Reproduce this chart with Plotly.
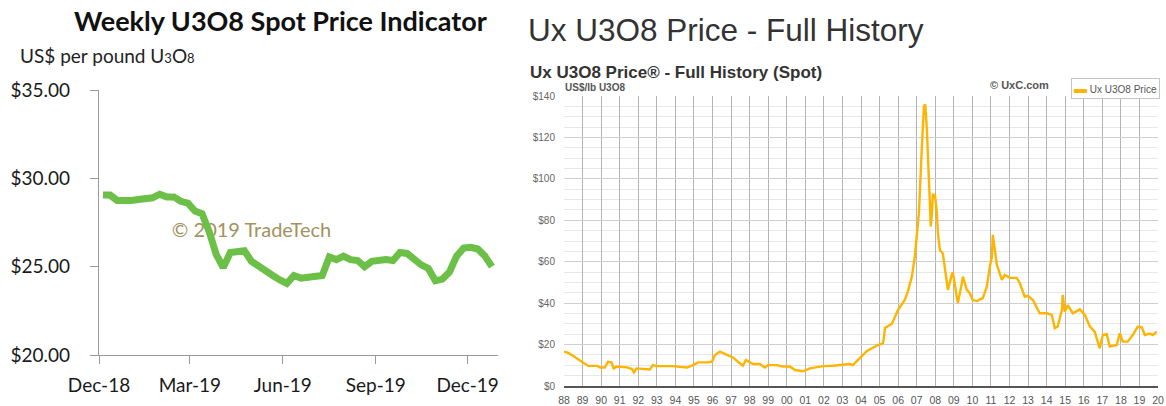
import plotly.graph_objects as go
import pandas as pd

W, H = 1166, 406

def px(x):
    return x / W

def py(y):
    return 1 - y / H

# ---------------- Left chart: TradeTech weekly spot price indicator ----------------
weekly_start = "2018-12-05"
weekly_price = [29.05, 29.05, 28.75, 28.7, 28.75, 28.8, 28.85, 28.9, 29.1, 28.95,
                28.95, 28.7, 28.6, 28.15, 28.0, 27.0, 25.7, 24.95, 25.8, 25.9,
                25.9, 25.3, 25.0, 24.8, 24.5, 24.25, 24.05, 24.5, 24.35, 24.4,
                24.5, 24.5, 25.55, 25.4, 25.6, 25.4, 25.35, 25.0, 25.3, 25.35,
                25.4, 25.35, 25.8, 25.75, 25.4, 25.1, 24.9, 24.2, 24.3, 24.7,
                25.6, 26.05, 26.1, 26.0, 25.6, 25.0]
weekly_dates = pd.date_range(weekly_start, periods=len(weekly_price), freq="7D")

left_tickvals = ["2018-12-01", "2019-03-01", "2019-06-01", "2019-09-01", "2019-12-01"]
left_ticktext = ["Dec-18", "Mar-19", "Jun-19", "Sep-19", "Dec-19"]
left_yticks = [20, 25, 30, 35]
left_yticktext = ["$%.2f" % v for v in left_yticks]

# ---------------- Right chart: UxC full history ----------------
ux_year = [1988.0, 1988.2, 1988.5, 1988.86, 1989.1, 1989.3, 1989.8, 1989.95, 1990.2, 1990.37,
           1990.55, 1990.68, 1990.85, 1991.4, 1991.66, 1991.77, 1991.9, 1992.47, 1992.63, 1992.79,
           1993.01, 1993.87, 1994.25, 1994.62, 1994.95, 1995.22, 1995.75, 1995.97, 1996.13, 1996.4,
           1996.78, 1997.1, 1997.37, 1997.64, 1997.8, 1998.18, 1998.55, 1998.82, 1998.99, 1999.47,
           1999.79, 2000.17, 2000.44, 2000.87, 2001.25, 2001.62, 2001.95, 2002.49, 2003.02, 2003.4,
           2003.56, 2004.05, 2004.32, 2004.64, 2004.91, 2005.18, 2005.23, 2005.29, 2005.66, 2005.99,
           2006.36, 2006.52, 2006.74, 2006.9, 2007.01, 2007.12, 2007.28, 2007.39, 2007.46, 2007.55,
           2007.66, 2007.76, 2007.82, 2007.87, 2007.98, 2008.09, 2008.14, 2008.25, 2008.41, 2008.52,
           2008.68, 2008.89, 2008.95, 2009.16, 2009.22, 2009.43, 2009.49, 2009.7, 2009.86, 2010.02,
           2010.24, 2010.56, 2010.78, 2010.94, 2011.05, 2011.1, 2011.16, 2011.26, 2011.32, 2011.59,
           2011.75, 2012.02, 2012.39, 2012.56, 2012.82, 2012.99, 2013.26, 2013.63, 2014.01, 2014.28,
           2014.44, 2014.6, 2014.82, 2014.87, 2014.98, 2015.14, 2015.41, 2015.79, 2016.06, 2016.33,
           2016.59, 2016.86, 2017.03, 2017.24, 2017.4, 2017.78, 2017.94, 2018.1, 2018.37, 2018.64,
           2018.91, 2019.13, 2019.29, 2019.56, 2019.72, 2019.93]
ux_price = [16.6, 16.1, 14.5, 12.3, 11.0, 9.7, 9.7, 8.9, 8.9, 11.7,
            11.4, 8.5, 9.4, 9.0, 8.2, 6.6, 8.5, 8.0, 8.0, 10.1,
            9.6, 9.6, 9.1, 8.9, 10.1, 11.4, 11.4, 11.7, 15.0, 16.6,
            15.0, 13.8, 11.7, 9.8, 12.6, 10.6, 10.6, 8.9, 10.1, 10.1,
            9.4, 9.4, 7.7, 7.1, 8.5, 8.9, 9.6, 9.8, 10.1, 10.6,
            10.1, 14.2, 16.9, 18.5, 19.8, 20.6, 23.0, 28.0, 30.0, 36.7,
            41.5, 45.6, 52.8, 62.5, 72.0, 83.5, 115.6, 135.0, 136.0, 123.7,
            99.5, 77.0, 83.6, 92.3, 92.3, 83.6, 74.0, 65.7, 64.0, 57.6,
            46.4, 53.6, 55.0, 43.0, 40.0, 49.6, 52.8, 46.4, 44.8, 41.5,
            41.0, 42.4, 48.0, 57.6, 62.5, 73.0, 69.0, 62.5, 58.5, 51.2,
            53.6, 52.2, 52.2, 49.6, 43.1, 43.5, 41.5, 35.1, 35.1, 34.3,
            27.9, 28.7, 36.7, 44.0, 35.9, 39.0, 35.1, 37.0, 34.3, 28.7,
            26.2, 18.2, 24.6, 25.0, 19.0, 19.8, 25.5, 21.4, 21.4, 24.6,
            28.7, 28.3, 24.6, 25.3, 24.6, 26.2]

ux_name = "Ux U3O8 Price"
ux_color = "#FFB400"
ux_tickyears = list(range(1988, 2021))
ux_ticktext = ["%02d" % (y % 100) for y in ux_tickyears]
ux_yticks = [0, 20, 40, 60, 80, 100, 120, 140]
ux_yticktext = ["$%d" % v for v in ux_yticks]

fig = go.Figure()

# watermark text under the green line
fig.add_trace(go.Scatter(
    x=["2019-05-01"], y=[26.95], mode="text", text=["© 2019 TradeTech"],
    textfont=dict(family="Lato", size=20, color="#A3925F"),
    xaxis="x", yaxis="y", showlegend=False, hoverinfo="skip"))

fig.add_trace(go.Scatter(
    x=weekly_dates, y=weekly_price, mode="lines",
    line=dict(color="#6CBF47", width=7, shape="linear"),
    xaxis="x", yaxis="y", showlegend=False, name="Weekly U3O8 Spot Price Indicator"))

fig.add_trace(go.Scatter(
    x=ux_year, y=ux_price, mode="lines",
    line=dict(color=ux_color, width=2.4),
    xaxis="x2", yaxis="y2", showlegend=False, name=ux_name))

left_font = dict(family="Lato", size=19, color="#1a1a1a")
right_font = dict(family="Liberation Sans", size=10, color="#666666")

fig.update_layout(
    width=W, height=H,
    margin=dict(l=0, r=0, t=0, b=0),
    paper_bgcolor="white", plot_bgcolor="rgba(0,0,0,0)",
    xaxis=dict(
        domain=[px(99), px(498)], anchor="y", type="date",
        range=["2018-12-01", "2019-12-31"],
        tickvals=left_tickvals, ticktext=left_ticktext,
        showgrid=False, zeroline=False,
        showline=True, linecolor="#9a9a9a", linewidth=1.2,
        ticks="outside", ticklen=8, tickcolor="#9a9a9a", tickwidth=1.2,
        tickfont=left_font, ticklabelstandoff=5, automargin=False),
    yaxis=dict(
        domain=[py(355), py(90)], anchor="x",
        range=[20, 35], tickvals=left_yticks, ticktext=left_yticktext,
        showgrid=False, zeroline=False,
        showline=True, linecolor="#9a9a9a", linewidth=1.2,
        ticks="outside", ticklen=8, tickcolor="#9a9a9a", tickwidth=1.2,
        tickfont=left_font, ticklabelstandoff=16, automargin=False),
    xaxis2=dict(
        domain=[px(564), px(1158)], anchor="y2",
        range=[1988, 2020], tickvals=ux_tickyears, ticktext=ux_ticktext,
        showgrid=True, gridcolor="#b4b4b4", gridwidth=1,
        zeroline=False, showline=True, linecolor="#555555", linewidth=1.5,
        ticks="", tickfont=dict(family="Liberation Sans", size=10.5, color="#555555"),
        ticklabelstandoff=4, automargin=False),
    yaxis2=dict(
        domain=[py(386), py(96)], anchor="x2",
        range=[0, 140], tickvals=ux_yticks, ticktext=ux_yticktext,
        showgrid=True, gridcolor="#cfcfcf", gridwidth=1,
        minor=dict(dtick=5, showgrid=True, gridcolor="#e8e8e8", gridwidth=1),
        zeroline=False, showline=False, ticks="",
        tickfont=right_font, ticklabelstandoff=8, automargin=False),
    showlegend=False,
)

annotations = [
    dict(text="<b>Weekly U3O8 Spot Price Indicator</b>", x=px(280), y=py(20),
         xanchor="center", yanchor="middle",
         font=dict(family="Lato", size=27, color="#111111")),
    dict(text="US$ per pound U<span style='font-size:13px'>3</span>O<span style='font-size:13px'>8</span>",
         x=px(18), y=py(55), xanchor="left", yanchor="middle",
         font=dict(family="Lato", size=19, color="#222222")),
    dict(text="Ux U3O8 Price - Full History", x=px(526), y=py(30),
         xanchor="left", yanchor="middle",
         font=dict(family="Liberation Sans", size=31.5, color="#333333")),
    dict(text="<b>Ux U3O8 Price® - Full History (Spot)</b>", x=px(528), y=py(72),
         xanchor="left", yanchor="middle",
         font=dict(family="Liberation Sans", size=17, color="#333333")),
    dict(text="<b>US$/lb U3O8</b>", x=px(563), y=py(88),
         xanchor="left", yanchor="middle",
         font=dict(family="Liberation Sans", size=10, color="#555555")),
    dict(text="<b>© UxC.com</b>", x=px(988), y=py(85),
         xanchor="left", yanchor="middle",
         font=dict(family="Liberation Sans", size=11, color="#555555")),
    # legend box for the UxC series
    dict(text="<span style='color:%s;font-size:13px'>▬</span> %s" % (ux_color, ux_name),
         x=px(1160), y=py(78), xanchor="right", yanchor="top",
         bordercolor="#c4c4c4", borderwidth=1, borderpad=2, bgcolor="white",
         font=dict(family="Liberation Sans", size=10, color="#555555")),
]
for a in annotations:
    a.update(xref="paper", yref="paper", showarrow=False)
fig.update_layout(annotations=annotations)

fig.write_html("out.html",
               config={"displayModeBar": False},
               post_script="document.body.style.margin='0';document.body.style.padding='0';")
